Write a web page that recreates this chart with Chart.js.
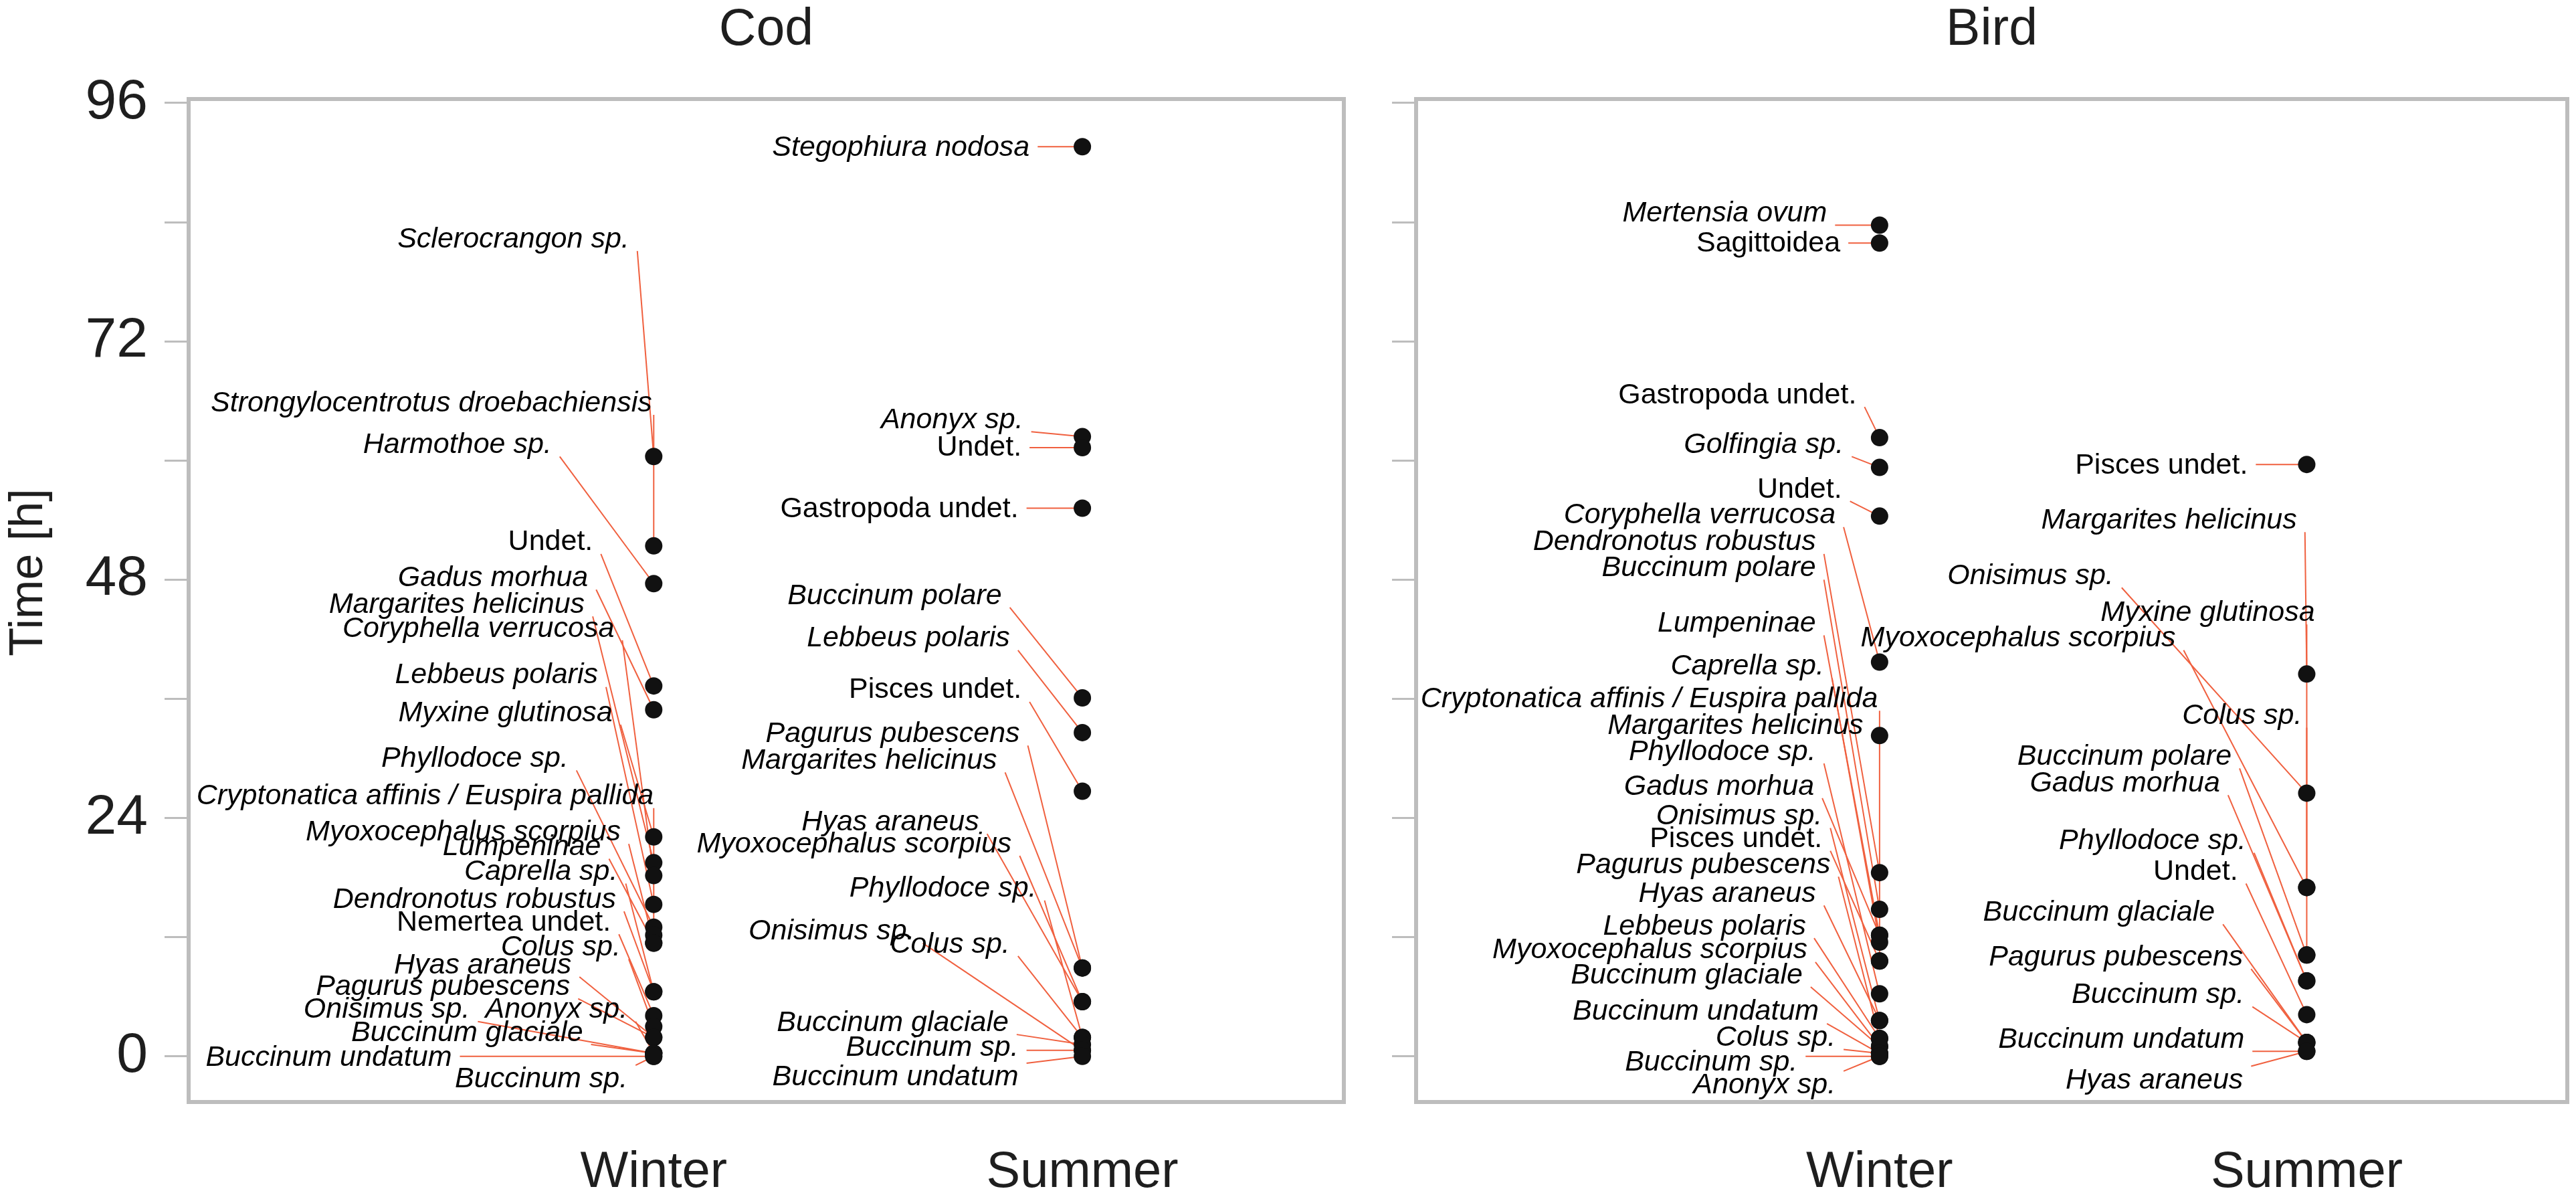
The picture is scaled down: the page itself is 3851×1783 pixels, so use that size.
<!DOCTYPE html>
<html>
<head>
<meta charset="utf-8">
<script src="https://cdn.jsdelivr.net/npm/chart.js@4.4.1/dist/chart.umd.min.js"></script>
<style>
  html, body { margin: 0; padding: 0; background: #fff; }
  #wrap { position: relative; width: 3851px; height: 1783px; }
  .panel { position: absolute; top: 0; height: 1783px; }
</style>
</head>
<body>
<div id="wrap">
  <div class="panel" style="left:0;width:2040px"><canvas id="cod"></canvas></div>
  <div class="panel" style="left:2040px;width:1811px"><canvas id="bird"></canvas></div>
</div>
<script>
// ---- data (hours until prey no longer identifiable) ----
var seasons = ['Winter', 'Summer'];
var panelTitles = ['Cod', 'Bird'];
var yAxisTitle = 'Time [h]';
var yTickValues = [0, 12, 24, 36, 48, 60, 72, 84, 96];
var yTickLabels = [0, 24, 48, 72, 96];

var codWinterTaxa = ['Sclerocrangon sp.', 'Strongylocentrotus droebachiensis', 'Harmothoe sp.', 'Undet.',
  'Gadus morhua', 'Margarites helicinus', 'Coryphella verrucosa', 'Lebbeus polaris', 'Myxine glutinosa',
  'Phyllodoce sp.', 'Cryptonatica affinis / Euspira pallida', 'Myoxocephalus scorpius', 'Lumpeninae',
  'Caprella sp.', 'Dendronotus robustus', 'Nemertea undet.', 'Colus sp.', 'Hyas araneus',
  'Pagurus pubescens', 'Onisimus sp.', 'Anonyx sp.', 'Buccinum glaciale', 'Buccinum undatum', 'Buccinum sp.'];
var codWinterTime = [60.4, 51.4, 47.6, 37.3, 34.9, 19.5, 18.2, 15.3, 22.1, 13.0, 12.2, 11.4, 11.4,
  6.5, 6.5, 4.1, 3.0, 1.9, 1.9, 0.3, 0.3, 0.3, 0, 0];

var codSummerTaxa = ['Stegophiura nodosa', 'Anonyx sp.', 'Undet.', 'Gastropoda undet.', 'Buccinum polare',
  'Lebbeus polaris', 'Pisces undet.', 'Pagurus pubescens', 'Margarites helicinus', 'Hyas araneus',
  'Myoxocephalus scorpius', 'Phyllodoce sp.', 'Onisimus sp.', 'Colus sp.', 'Buccinum glaciale',
  'Buccinum sp.', 'Buccinum undatum'];
var codSummerTime = [91.6, 62.4, 61.3, 55.2, 36.1, 32.6, 26.7, 8.9, 8.9, 5.5, 5.5, 1.9, 0.6, 1.9, 1.2, 0.6, 0];

var birdWinterTaxa = ['Mertensia ovum', 'Sagittoidea', 'Gastropoda undet.', 'Golfingia sp.', 'Undet.',
  'Coryphella verrucosa', 'Dendronotus robustus', 'Buccinum polare', 'Lumpeninae', 'Caprella sp.',
  'Cryptonatica affinis / Euspira pallida', 'Margarites helicinus', 'Phyllodoce sp.', 'Gadus morhua',
  'Onisimus sp.', 'Pisces undet.', 'Pagurus pubescens', 'Hyas araneus', 'Lebbeus polaris',
  'Myoxocephalus scorpius', 'Buccinum glaciale', 'Buccinum undatum', 'Colus sp.', 'Buccinum sp.', 'Anonyx sp.'];
var birdWinterTime = [83.7, 81.9, 62.3, 59.3, 54.4, 39.7, 18.5, 14.8, 12.2, 11.5, 9.6, 32.3, 6.3, 12.2,
  3.6, 9.6, 1.8, 3.6, 1.8, 1.0, 1.0, 0.3, 0.3, 0, 0];

var birdSummerTaxa = ['Pisces undet.', 'Margarites helicinus', 'Onisimus sp.', 'Myxine glutinosa',
  'Myoxocephalus scorpius', 'Colus sp.', 'Buccinum polare', 'Gadus morhua', 'Phyllodoce sp.', 'Undet.',
  'Buccinum glaciale', 'Pagurus pubescens', 'Buccinum sp.', 'Buccinum undatum', 'Hyas araneus'];
var birdSummerTime = [59.6, 38.5, 26.5, 17.0, 17.0, 10.2, 10.2, 7.6, 7.6, 4.2, 1.4, 1.4, 1.4, 0.5, 0.5];

// where each repelled label sits (x = right end on the season axis, y = centre in hours)
var codWinterLabelX = [0.943, 0.996, 0.762, 0.858, 0.847, 0.839, 0.908, 0.870, 0.904, 0.801, 1.0, 0.923,
  0.877, 0.916, 0.912, 0.900, 0.923, 0.808, 0.805, 0.571, 0.939, 0.835, 0.529, 0.939];
var codWinterLabelY = [82.4, 65.9, 61.7, 51.9, 48.3, 45.6, 43.2, 38.5, 34.7, 30.1, 26.3, 22.7, 21.2,
  18.7, 15.9, 13.6, 11.1, 9.3, 7.1, 4.8, 4.8, 2.5, 0, -2.2];
var codSummerLabelX = [1.877, 1.862, 1.858, 1.851, 1.812, 1.831, 1.858, 1.854, 1.801, 1.759, 1.835,
  1.893, 1.609, 1.831, 1.828, 1.851, 1.851];
var codSummerLabelY = [91.6, 64.2, 61.4, 55.2, 46.5, 42.2, 37.0, 32.6, 29.9, 23.7, 21.5, 17.0, 12.7,
  11.4, 3.5, 1.0, -2.0];
var birdWinterLabelX = [0.877, 0.908, 0.946, 0.916, 0.912, 0.897, 0.851, 0.851, 0.851, 0.870, 0.996,
  0.962, 0.851, 0.847, 0.866, 0.866, 0.885, 0.851, 0.828, 0.831, 0.820, 0.858, 0.897, 0.808, 0.897];
var birdWinterLabelY = [85.0, 82.0, 66.7, 61.7, 57.2, 54.6, 51.9, 49.3, 43.7, 39.4, 36.1, 33.4, 30.8,
  27.3, 24.3, 22.0, 19.4, 16.5, 13.2, 10.8, 8.3, 4.6, 2.0, -0.5, -2.8];
var birdSummerLabelX = [1.862, 1.977, 1.548, 2.019, 1.693, 1.989, 1.824, 1.797, 1.858, 1.839, 1.785,
  1.851, 1.854, 1.854, 1.851];
var birdSummerLabelY = [59.6, 54.1, 48.5, 44.8, 42.2, 34.4, 30.3, 27.6, 21.8, 18.7, 14.6, 10.1, 6.3, 1.8, -2.3];

// ---- styling ----
var FONT = "'Liberation Sans', Arial, Helvetica, sans-serif";
var LABEL_SIZE = 43;
var BOX_GREY = '#bdbdbd';
var SEGMENT = '#f0603f';
var TEXT = '#1e1e1e';

function isPlain(name) {
  return /undet\.|Sagittoidea/i.test(name);
}
function labelFont(name) {
  return (isPlain(name) ? '' : 'italic ') + LABEL_SIZE + 'px ' + FONT;
}

// label box of one taxon, in pixels
function labelBox(ctx, xs, ys, g, i) {
  var name = g.taxa[i];
  ctx.font = labelFont(name);
  var right = xs.getPixelForValue(g.labelX[i]);
  var w = ctx.measureText(name).width;
  var cy = ys.getPixelForValue(g.labelY[i]);
  return { right: right, left: right - w, cy: cy };
}

function speciesLabels(groups) {
  return {
    id: 'speciesLabels',
    beforeDatasetsDraw: function (chart) {
      var ctx = chart.ctx, xs = chart.scales.x, ys = chart.scales.y;
      ctx.save();
      ctx.strokeStyle = SEGMENT;
      ctx.lineWidth = 2;
      groups.forEach(function (g) {
        g.taxa.forEach(function (name, i) {
          var b = labelBox(ctx, xs, ys, g, i);
          var px = xs.getPixelForValue(g.season), py = ys.getPixelForValue(g.time[i]);
          var l = b.left - 10, r = b.right + 12;
          var t = b.cy - LABEL_SIZE * 0.45, bt = b.cy + LABEL_SIZE * 0.45;
          var sx = Math.min(Math.max(px, l), r);
          var sy = Math.min(Math.max(py, t), bt);
          var dx = px - sx, dy = py - sy;
          if (Math.sqrt(dx * dx + dy * dy) < 22) return;
          ctx.beginPath();
          ctx.moveTo(sx, sy);
          ctx.lineTo(px, py);
          ctx.stroke();
        });
      });
      ctx.restore();
    },
    afterDatasetsDraw: function (chart) {
      var ctx = chart.ctx, xs = chart.scales.x, ys = chart.scales.y;
      ctx.save();
      ctx.fillStyle = '#000';
      ctx.textAlign = 'right';
      ctx.textBaseline = 'middle';
      groups.forEach(function (g) {
        g.taxa.forEach(function (name, i) {
          var b = labelBox(ctx, xs, ys, g, i);
          ctx.fillText(name, b.right, b.cy + 2);
        });
      });
      ctx.restore();
    }
  };
}

var panelFrame = {
  id: 'panelFrame',
  afterDraw: function (chart) {
    var a = chart.chartArea, ctx = chart.ctx, opts = chart.options.plugins;
    ctx.save();
    ctx.strokeStyle = BOX_GREY;
    ctx.lineWidth = 6;
    ctx.strokeRect(a.left, a.top, a.right - a.left, a.bottom - a.top);
    ctx.fillStyle = TEXT;
    ctx.font = '77px ' + FONT;
    ctx.textAlign = 'center';
    ctx.textBaseline = 'middle';
    ctx.fillText(opts.panelTitle, (a.left + a.right) / 2, 46);
    if (opts.axisTitle) {
      ctx.font = '70px ' + FONT;
      ctx.translate(44, a.top + (a.bottom - a.top) * 0.472);
      ctx.rotate(-Math.PI / 2);
      ctx.fillText(opts.axisTitle, 0, 0);
    }
    ctx.restore();
  }
};

function seasonSet(season, time) {
  return {
    data: time.map(function (t) { return { x: season, y: t }; }),
    pointRadius: 13,
    pointBackgroundColor: '#111',
    pointBorderWidth: 0,
    showLine: false
  };
}

function makePanel(id, title, groups, withLabels, axisWidth, rightPad) {
  return new Chart(document.getElementById(id), {
    type: 'scatter',
    data: { datasets: groups.map(function (g) { return seasonSet(g.season, g.time); }) },
    options: {
      responsive: true,
      maintainAspectRatio: false,
      devicePixelRatio: 1,
      animation: false,
      events: [],
      layout: { padding: { top: 148, right: rightPad, left: 0, bottom: 0 } },
      plugins: {
        legend: { display: false }, tooltip: { enabled: false },
        panelTitle: title, axisTitle: withLabels ? yAxisTitle : ''
      },
      scales: {
        x: {
          type: 'linear', min: -0.085, max: 2.61,
          afterBuildTicks: function (s) { s.ticks = seasons.map(function (_, i) { return { value: i + 1 }; }); },
          ticks: {
            callback: function (v) { return seasons[v - 1] || ''; },
            font: { size: 76, family: FONT }, color: TEXT, padding: 60,
            autoSkip: false, maxRotation: 0
          },
          grid: { display: false, drawTicks: false },
          border: { display: false },
          afterFit: function (s) { s.height = 136; }
        },
        y: {
          min: -4.6, max: 96.4,
          afterBuildTicks: function (s) { s.ticks = yTickValues.map(function (v) { return { value: v }; }); },
          ticks: {
            callback: function (v) { return withLabels && yTickLabels.indexOf(v) >= 0 ? String(v) : ''; },
            font: { size: 84, family: FONT }, color: TEXT, padding: 25
          },
          grid: { drawOnChartArea: false, drawTicks: true, tickLength: 36, color: BOX_GREY, lineWidth: 3 },
          border: { display: false },
          afterFit: function (s) { s.width = axisWidth; }
        }
      }
    },
    plugins: [speciesLabels(groups), panelFrame]
  });
}

makePanel('cod', panelTitles[0], [
  { season: 1, taxa: codWinterTaxa, time: codWinterTime, labelX: codWinterLabelX, labelY: codWinterLabelY },
  { season: 2, taxa: codSummerTaxa, time: codSummerTime, labelX: codSummerLabelX, labelY: codSummerLabelY }
], true, 282, 31);

makePanel('bird', panelTitles[1], [
  { season: 1, taxa: birdWinterTaxa, time: birdWinterTime, labelX: birdWinterLabelX, labelY: birdWinterLabelY },
  { season: 2, taxa: birdSummerTaxa, time: birdSummerTime, labelX: birdSummerLabelX, labelY: birdSummerLabelY }
], false, 77, 7);
</script>
</body>
</html>
